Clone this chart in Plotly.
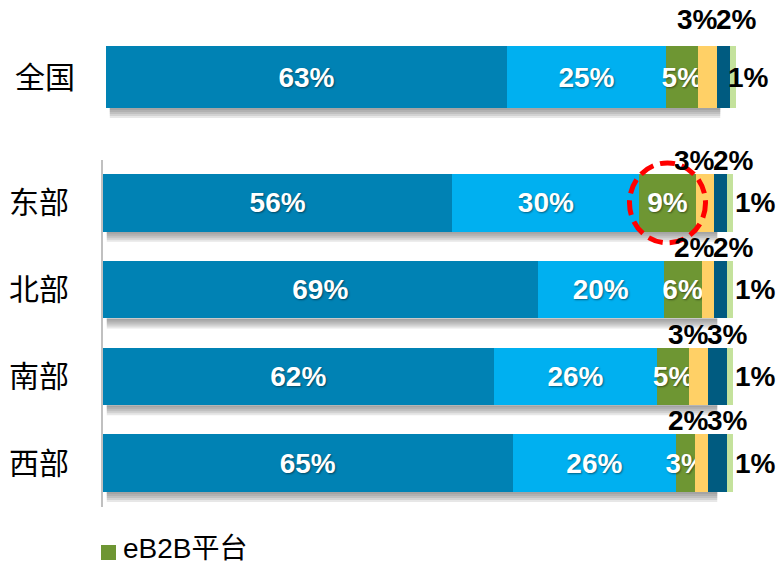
import plotly.graph_objects as go

# Rows: national total on its own panel, then the four regions
categories = ["全国", "东部", "北部", "南部", "西部"]

# Channel shares (%) per row, in the order of `categories`
share_main = [63, 56, 69, 62, 65]
share_second = [25, 30, 20, 26, 26]
share_eb2b = [5, 9, 6, 5, 3]
share_fourth = [3, 3, 2, 3, 2]
share_fifth = [2, 2, 2, 3, 3]
share_sixth = [1, 1, 1, 1, 1]

series = [
    ("s1", share_main, "#0082B4", True),
    ("s2", share_second, "#00B0F0", True),
    ("eB2B平台", share_eb2b, "#6E9633", True),
    ("s4", share_fourth, "#FFD066", False),
    ("s5", share_fifth, "#005B80", False),
    ("s6", share_sixth, "#C4E29C", False),
]
legend_series = "eB2B平台"
highlight = ("东部", "eB2B平台")

W, H = 776, 566
LATIN = "Arial, Liberation Sans, sans-serif"
CJK = "Noto Sans CJK SC, sans-serif"
BARGAP = 0.335
NUM_SIZE = 28

# panel geometry in pixels (top edge, bottom edge)
top_px = (30.5, 123.5)
bot_px = (159.5, 506.5)
top_rows = categories[:1]
bot_rows = categories[1:]


def ydom(px):
    return [(H - px[1]) / H, (H - px[0]) / H]


totals = [sum(s[1][i] for s in series) for i in range(len(categories))]


def cum_pct(row, upto):
    """Normalized cumulative share (0-100) of the first `upto` series in a row."""
    return sum(series[k][1][row] for k in range(upto)) / totals[row] * 100


fig = go.Figure()

for name, vals, color, inside in series:
    for rows, xa, ya in ((top_rows, "x2", "y2"), (bot_rows, "x", "y")):
        idx = [categories.index(r) for r in rows]
        fig.add_trace(go.Bar(
            orientation="h",
            y=rows,
            x=[vals[i] for i in idx],
            xaxis=xa, yaxis=ya,
            name=name,
            marker=dict(color=color, line=dict(width=0)),
            text=[f"{vals[i]}%" for i in idx] if inside else None,
            textposition="inside" if inside else "none",
            insidetextanchor="middle",
            textangle=0,
            constraintext="none",
            textfont=dict(family=LATIN, size=NUM_SIZE, color="white", weight="bold",
                          shadow="1px 1px 2px rgba(0,0,0,0.45)"),
            showlegend=False,
            hoverinfo="skip",
        ))

annotations = []
shapes = []
lab_font = dict(family=LATIN, size=NUM_SIZE, color="black", weight="bold")

for panel_rows, xr, yr, above_shift, end_shift, px in (
        (top_rows, "x2", "y2", 9, -10, top_px),
        (bot_rows, "x", "y", -4, 0, bot_px)):
    unit_px = (px[1] - px[0]) / len(panel_rows)
    half = (1 - BARGAP) / 2
    for j, row_name in enumerate(panel_rows):
        r = categories.index(row_name)
        edge = cum_pct(r, 4)
        # fourth and fifth shares sit above the bar, meeting at their boundary
        annotations.append(dict(
            xref=xr, yref=yr, x=edge, y=j - half, text=f"{series[3][1][r]}%",
            xanchor="right", yanchor="bottom", yshift=above_shift, xshift=3,
            showarrow=False, font=lab_font))
        annotations.append(dict(
            xref=xr, yref=yr, x=edge, y=j - half, text=f"{series[4][1][r]}%",
            xanchor="left", yanchor="bottom", yshift=above_shift, xshift=-3,
            showarrow=False, font=lab_font))
        # last share to the right of the bar
        annotations.append(dict(
            xref=xr, yref=yr, x=100, y=j, text=f"{series[5][1][r]}%",
            xanchor="left", yanchor="middle", xshift=end_shift,
            showarrow=False, font=lab_font))
        # soft drop shadow under each bar
        for k in range(1, 6):
            shapes.append(dict(
                type="rect", xref=xr, yref=yr, layer="below",
                x0=0.6, x1=97.5,
                y0=j + half, y1=j + half + (2.0 * k) / unit_px,
                fillcolor="#606060", opacity=0.15, line=dict(width=0)))

# dashed ring around the highlighted segment
hr = categories.index(highlight[0])
hs = [s[0] for s in series].index(highlight[1])
hx = (cum_pct(hr, hs) + cum_pct(hr, hs + 1)) / 2
shapes.append(dict(
    type="circle", xref="x", yref="y",
    xsizemode="pixel", ysizemode="pixel",
    xanchor=hx, yanchor=bot_rows.index(highlight[0]),
    x0=-38, x1=38, y0=-40, y1=40,
    line=dict(color="#FF0000", width=5, dash="15px,7px"),
    fillcolor="rgba(0,0,0,0)"))

# legend entry for the eB2B series
leg_color = [s[2] for s in series if s[0] == legend_series][0]
shapes.append(dict(
    type="rect", xref="paper", yref="paper",
    x0=101 / W, x1=116 / W, y0=(H - 560) / H, y1=(H - 545) / H,
    fillcolor=leg_color, line=dict(width=0)))
annotations.append(dict(
    xref="paper", yref="paper", x=121 / W, y=0,
    xanchor="left", yanchor="bottom",
    text=legend_series,
    showarrow=False,
    font=dict(family="Arial, Liberation Sans, Noto Sans CJK SC", size=28, color="black")))

hidden_x = dict(range=[0, 100], showticklabels=False, showgrid=False,
                zeroline=False, showline=False, fixedrange=True)
tick_font = dict(family=CJK, size=30, color="black")

fig.update_layout(
    width=W, height=H,
    template="none",
    margin=dict(l=0, r=0, t=0, b=0),
    paper_bgcolor="white", plot_bgcolor="rgba(0,0,0,0)",
    barmode="stack", barnorm="percent", bargap=BARGAP,
    showlegend=False,
    xaxis=dict(domain=[103 / W, 733 / W], anchor="y", **hidden_x),
    xaxis2=dict(domain=[106 / W, 736 / W], anchor="y2", **hidden_x),
    yaxis=dict(domain=ydom(bot_px), anchor="x", type="category",
               categoryarray=bot_rows, range=[len(bot_rows) - 0.5, -0.5],
               showline=True, linecolor="#C0C0C0", linewidth=2,
               ticks="", ticklabelstandoff=26, tickfont=tick_font,
               showgrid=False, zeroline=False, automargin=False),
    yaxis2=dict(domain=ydom(top_px), anchor="x2", type="category",
                categoryarray=top_rows, range=[0.5, -0.5],
                showline=False, ticks="", ticklabelstandoff=30,
                tickfont=tick_font, showgrid=False, zeroline=False,
                automargin=False),
    annotations=annotations,
    shapes=shapes,
)

fig.write_html("out.html")
